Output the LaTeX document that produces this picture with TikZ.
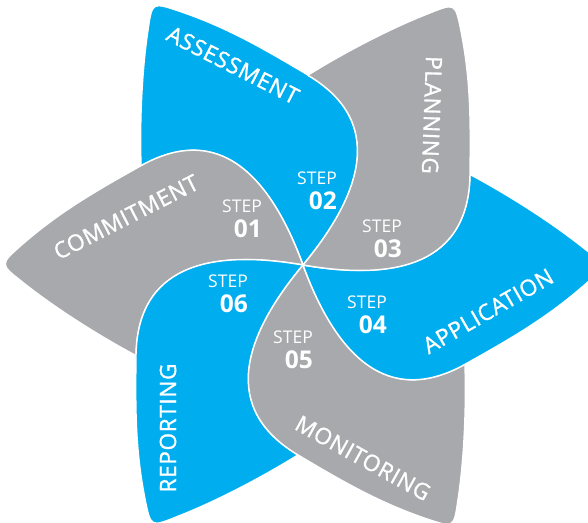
\documentclass[tikz,border=0pt]{standalone}
\usepackage{fontspec}
\setmainfont{Open Sans}
\newfontfamily\phasefont[LetterSpace=3,FakeBold=1.2]{Open Sans}
\usetikzlibrary{positioning}
\definecolor{PetalBlue}{RGB}{0,174,239}
\definecolor{PetalGray}{RGB}{167,169,172}
\tikzset{
	petal/.style={draw=white, line width=1.5pt, line join=round},
	phase/.style={text=white, inner sep=0pt, font=\phasefont\fontsize{22.5}{22.5}\selectfont},
	steplab/.style={text=white, align=right, anchor=east, inner sep=0pt,
		font=\fontsize{17.5}{25}\selectfont}
}
% one blade, drawn upright; the others are turned copies
\newcommand{\petalpath}{(0,0) .. controls (61,73) and (82,144) .. (5,190)
	.. controls (-42,218) and (-77,238) .. (-124,254)
	.. controls (-151,263) and (-151,263) .. (-155,235)
	.. controls (-161,196) and (-163.5,144) .. (-162,99)
	.. controls (-84,143) and (-33,89) .. (0,0) -- cycle}
\newcommand{\steptext}[1]{STEP\\{\fontsize{24.5}{24.5}\selectfont\bfseries #1}}

\begin{document}
\begin{tikzpicture}[x=1pt, y=1pt]
	\useasboundingbox (-303,-257) rectangle (285,265);
	\clip (-303,-257) rectangle (285,265);
	\foreach \ang/\col in {0/PetalBlue, 60/PetalGray, 120/PetalBlue,
		180/PetalGray, 240/PetalBlue, 300/PetalGray}
	\filldraw[petal, fill=\col, rotate=\ang] \petalpath;
	
	\node[phase, rotate=-27] (assess) at (-70,200) {ASSESSMENT};
	\node[phase, rotate=-92] (plan) at (129,150) {PLANNING};
	\node[phase, rotate=30] (apply) at (185,-46) {APPLICATION};
	\node[phase, rotate=-29] (monitor) at (60,-193) {MONITORING};
	\node[phase, rotate=90] (report) at (-135,-163) {REPORTING};
	\node[phase, rotate=27] (commit) at (-177,48) {COMMITMENT};
	
	\node[steplab] (s1) at (-41,46) {\steptext{01}};
	\node[steplab] (s2) at (34,74) {\steptext{02}};
	\node[steplab] (s3) at (99,26) {\steptext{03}};
	\node[steplab] (s4) at (84,-50) {\steptext{04}};
	\node[steplab] (s5) at (10,-85) {\steptext{05}};
	\node[steplab] (s6) at (-55,-29) {\steptext{06}};
\end{tikzpicture}
\end{document}
